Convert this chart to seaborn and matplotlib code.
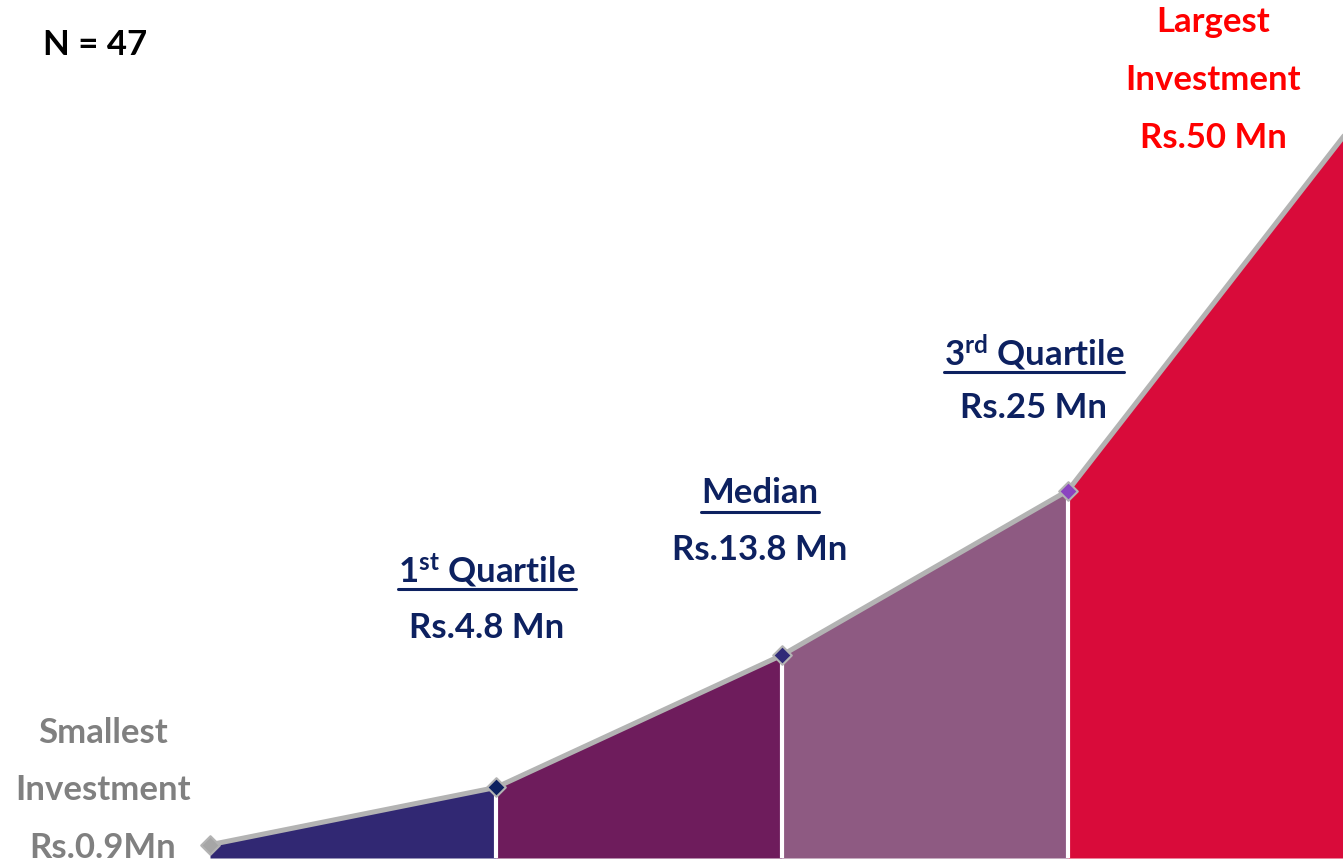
import matplotlib
matplotlib.use("Agg")
import matplotlib.pyplot as plt
import seaborn as sns
import pandas as pd
import numpy as np
from matplotlib.lines import Line2D

# ---- data ----
stages = ["Smallest", "1st Quartile", "Median", "3rd Quartile", "Largest"]
values = [0.9, 4.8, 13.8, 25, 50]
value_labels = ["Rs.0.9Mn", "Rs.4.8 Mn", "Rs.13.8 Mn", "Rs.25 Mn", "Rs.50 Mn"]
n_total = 47

seg_colors = ["#312873", "#6E1C5C", "#8E5A82", "#D90B3A"]
marker_colors = ["#A6A6A6", "#0D2160", "#302A78", "#8B44C0", "#D90B3A"]
navy = "#0D2160"

sns.set_theme(style="white")
plt.rcParams["font.family"] = ["Lato", "DejaVu Sans"]
plt.rcParams["mathtext.fontset"] = "custom"
plt.rcParams["mathtext.rm"] = "Lato:bold"
plt.rcParams["mathtext.bf"] = "Lato:bold"
plt.rcParams["mathtext.it"] = "Lato:bold"

W, H = 1343, 864
fig = plt.figure(figsize=(W / 100, H / 100), dpi=100)
ax = fig.add_axes([0, 0, 1, 1])

df = pd.DataFrame({"x": np.arange(len(values)), "value": values})
x = df["x"].to_numpy()
y = df["value"].to_numpy()

# segment fills
for i in range(len(values) - 1):
    ax.fill_between(x[i:i + 2], 0, y[i:i + 2], color=seg_colors[i], lw=0, zorder=1)
# white separators
ax.vlines(x[1:-1], 0, y[1:-1], colors="white", lw=3, zorder=2)

# gray outline with seaborn
sns.lineplot(data=df, x="x", y="value", ax=ax, color="#B3B3B3", lw=3.6, zorder=3)
for i in range(len(values)):
    ax.scatter(x[i], y[i], marker="D", s=90, color=marker_colors[i],
               edgecolor="#B3B3B3", linewidth=1.5, zorder=4, clip_on=True)

px_x = 286.0
px_y = 14.7
ax.set_xlim(-210 / px_x, -210 / px_x + W / px_x)
ybot = -(H - 858) / px_y
ax.set_ylim(ybot, ybot + H / px_y)
ax.axis("off")

def fx(px):
    return px / W

def fy(py):
    return 1 - py / H

fs = 25
kw = dict(ha="center", va="center", fontsize=fs, fontweight="bold")

fig.text(fx(95), fy(45), f"N = {n_total}", color="black", **kw)

# smallest
gray = "#808080"
fig.text(fx(103), fy(733), "Smallest", color=gray, **kw)
fig.text(fx(103), fy(790), "Investment", color=gray, **kw)
fig.text(fx(103), fy(848), value_labels[0], color=gray, **kw)

# largest
red = "#FF0000"
fig.text(fx(1213), fy(22), "Largest", color=red, **kw)
fig.text(fx(1213), fy(80), "Investment", color=red, **kw)
fig.text(fx(1213), fy(138), value_labels[4], color=red, **kw)

# underlined headings
headings = [
    (487, 570, r"1$^{\mathbf{st}}$ Quartile", 628, value_labels[1]),
    (760, 493, "Median", 550, value_labels[2]),
    (1034, 353, r"3$^{\mathbf{rd}}$ Quartile", 408, value_labels[3]),
]
head_texts = []
for cx, hy, htxt, vy, vtxt in headings:
    t = fig.text(fx(cx), fy(hy), htxt, color=navy, **kw)
    head_texts.append((t, hy))
    fig.text(fx(cx), fy(vy), vtxt, color=navy, **kw)

fig.canvas.draw()
r = fig.canvas.get_renderer()
for t, hy in head_texts:
    bb = t.get_window_extent(r)
    uy = fy(hy + 19)
    fig.add_artist(Line2D([bb.x0 / W, bb.x1 / W], [uy, uy], color=navy, lw=2.2,
                          transform=fig.transFigure))

fig.savefig("out.png", dpi=100)
